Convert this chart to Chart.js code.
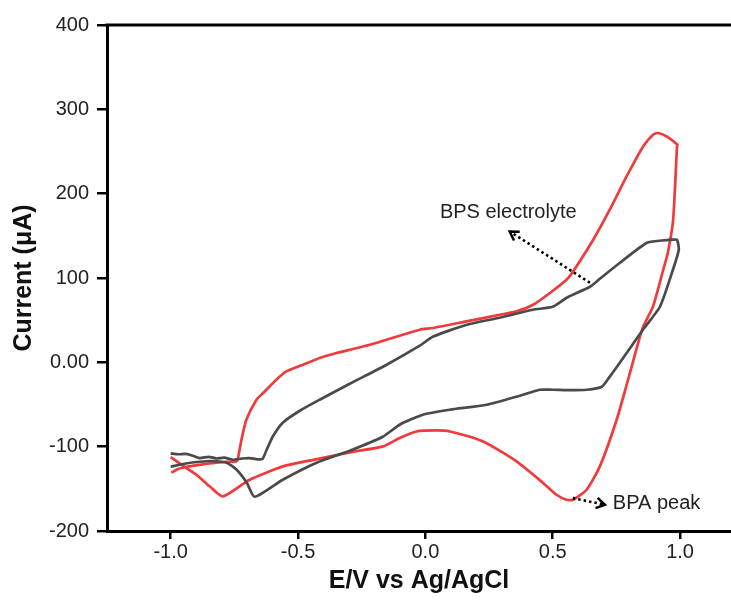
<!DOCTYPE html>
<html>
<head>
<meta charset="utf-8">
<script src="https://cdn.jsdelivr.net/npm/chart.js@4"></script>
<style>
html,body{margin:0;padding:0;background:#fff;}
#wrap{width:731px;height:603px;}
</style>
</head>
<body>
<div id="wrap"><canvas id="c" width="731" height="603"></canvas></div>
<script>
// BPA (red) cyclic voltammogram: forward then reverse scan
const bpaPotential = [-0.997,-0.975,-0.953,-0.92,-0.886,-0.85,-0.82,-0.78,-0.742,-0.737,-0.722,-0.703,-0.663,-0.637,-0.585,-0.546,-0.48,-0.415,-0.349,-0.284,-0.218,-0.153,-0.088,-0.022,0.03,0.161,0.292,0.358,0.423,0.489,0.554,0.58,0.659,0.724,0.79,0.855,0.894,0.914,0.947,0.99,
  0.988,0.973,0.952,0.934,0.894,0.853,0.803,0.751,0.685,0.633,0.58,0.554,0.515,0.462,0.358,0.227,0.096,0.044,-0.035,-0.101,-0.166,-0.297,-0.43,-0.559,-0.69,-0.795,-0.847,-0.899,-0.952,-1.0];
const bpaCurrent = [-131,-127,-125,-123,-121.5,-120,-119,-118,-117.5,-115.5,-91.8,-68,-44.3,-36.4,-20.6,-10.8,-2.8,5.1,11,15.8,20.9,26.8,32.7,38.7,40.7,48.5,56.4,60.4,68.3,82.2,97.9,107.8,145.4,181,220.4,256,269.9,271.9,267.9,258,
  256,169.5,130,109.8,66.3,40.7,-12.7,-68.1,-123.4,-151.1,-163,-163,-157,-143,-117.5,-93.8,-82,-80.8,-82,-89.8,-99.7,-106.8,-115,-123.4,-139.2,-159,-147,-133.3,-122.6,-112.3];

// BPS electrolyte (dark grey) cyclic voltammogram
const bpsPotential = [-1.0,-0.97,-0.94,-0.91,-0.886,-0.85,-0.82,-0.79,-0.756,-0.72,-0.69,-0.66,-0.639,-0.623,-0.599,-0.56,-0.493,-0.415,-0.297,-0.152,-0.022,0.029,0.163,0.292,0.422,0.5,0.555,0.646,0.685,0.764,0.87,0.93,0.972,0.988,
  0.995,0.972,0.921,0.854,0.791,0.724,0.693,0.634,0.56,0.5,0.449,0.371,0.241,0.096,-0.01,-0.101,-0.167,-0.297,-0.427,-0.56,-0.67,-0.701,-0.741,-0.78,-0.84,-0.886,-0.94,-1.0];
const bpsCurrent = [-108,-109,-108.5,-111,-113.5,-112,-114,-113,-115.5,-114,-113.5,-115,-114.3,-103.6,-88,-71.6,-57.4,-44.3,-25.4,-2.8,19.7,30.4,44.6,52.9,62.4,65.9,76.6,89.6,99.1,118.1,141.8,144.5,145.4,145.4,
  133.5,109.8,65.9,38.7,11.4,-17,-28.9,-32.5,-33,-32.5,-32.5,-39.6,-50.3,-56.2,-62.1,-74,-88.2,-104.8,-119,-139.2,-159.4,-142.8,-127.4,-119.1,-117,-117.9,-120,-123.8];

const xTicks = [-1.0,-0.5,0.0,0.5,1.0];
const yTicks = [-200,-100,0,100,200,300,400];

const annotations = [
  {text:'BPS electrolyte', x:0.057, y:177.4, fromX:0.646, fromY:94.4, toX:0.331, toY:155.2},
  {text:'BPA peak', x:0.736, y:-167.7, fromX:0.579, fromY:-161, toX:0.705, toY:-168.9}
];

function pts(xs, ys){ return xs.map((x,i)=>({x:x,y:ys[i]})); }

const fontFam = '"Liberation Sans", Arial, sans-serif';

const annPlugin = {
  id:'ann',
  afterDatasetsDraw(chart){
    const ctx = chart.ctx, xs = chart.scales.x, ys = chart.scales.y;
    ctx.save();
    // top frame line
    ctx.strokeStyle = '#000'; ctx.lineWidth = 3;
    ctx.beginPath(); ctx.moveTo(chart.chartArea.left-1.5, chart.chartArea.top); ctx.lineTo(chart.width, chart.chartArea.top); ctx.stroke();
    annotations.forEach(a=>{
      ctx.fillStyle = '#222';
      ctx.font = '20px ' + fontFam;
      ctx.textAlign = 'left'; ctx.textBaseline = 'middle';
      ctx.fillText(a.text, xs.getPixelForValue(a.x), ys.getPixelForValue(a.y));
      const x0 = xs.getPixelForValue(a.fromX), y0 = ys.getPixelForValue(a.fromY);
      const x1 = xs.getPixelForValue(a.toX), y1 = ys.getPixelForValue(a.toY);
      ctx.strokeStyle = '#000'; ctx.lineWidth = 2.6;
      ctx.setLineDash([2.5,3]);
      ctx.beginPath(); ctx.moveTo(x0,y0); ctx.lineTo(x1,y1); ctx.stroke();
      ctx.setLineDash([]);
      const ang = Math.atan2(y1-y0, x1-x0), L = 10, w = 0.55;
      ctx.lineWidth = 2.5;
      ctx.beginPath();
      ctx.moveTo(x1 - L*Math.cos(ang-w), y1 - L*Math.sin(ang-w));
      ctx.lineTo(x1, y1);
      ctx.lineTo(x1 - L*Math.cos(ang+w), y1 - L*Math.sin(ang+w));
      ctx.stroke();
    });
    ctx.restore();
  }
};

new Chart(document.getElementById('c'), {
  type:'line',
  data:{ datasets:[
    {label:'BPS electrolyte', data:pts(bpsPotential,bpsCurrent), borderColor:'#4a4a4a', borderWidth:2.7, pointRadius:0, tension:0.2, fill:false},
    {label:'BPA', data:pts(bpaPotential,bpaCurrent), borderColor:'#f03a3c', borderWidth:2.7, pointRadius:0, tension:0.2, fill:false}
  ]},
  options:{
    responsive:false, animation:false,
    layout:{padding:{top:25,right:0,left:0,bottom:0}},
    plugins:{legend:{display:false}, tooltip:{enabled:false}},
    scales:{
      x:{type:'linear', min:-1.25, max:1.2,
        afterBuildTicks(s){ s.ticks = xTicks.map(v=>({value:v})); },
        afterFit(s){ s.height = 72; },
        ticks:{callback:v=>v.toFixed(1), color:'#222', font:{size:20, family:fontFam}, padding:1, maxRotation:0},
        grid:{drawOnChartArea:false, drawTicks:true, tickLength:8, color:'#000', lineWidth:2.5},
        border:{color:'#000', width:3},
        title:{display:true, text:'E/V vs Ag/AgCl', color:'#111', font:{size:25, weight:'bold', family:fontFam}, padding:{top:0,bottom:7}}
      },
      y:{type:'linear', min:-200, max:400,
        afterBuildTicks(s){ s.ticks = yTicks.map(v=>({value:v})); },
        afterFit(s){ s.width = 107; },
        ticks:{callback:v=> v===0 ? '0.00' : String(v), color:'#222', font:{size:20, family:fontFam}, padding:8},
        grid:{drawOnChartArea:false, drawTicks:true, tickLength:10, color:'#000', lineWidth:2.5},
        border:{color:'#000', width:3},
        title:{display:true, text:'Current (μA)', color:'#111', font:{size:25, weight:'bold', family:fontFam}, padding:{top:9,bottom:0}}
      }
    }
  },
  plugins:[annPlugin]
});
</script>
</body>
</html>
